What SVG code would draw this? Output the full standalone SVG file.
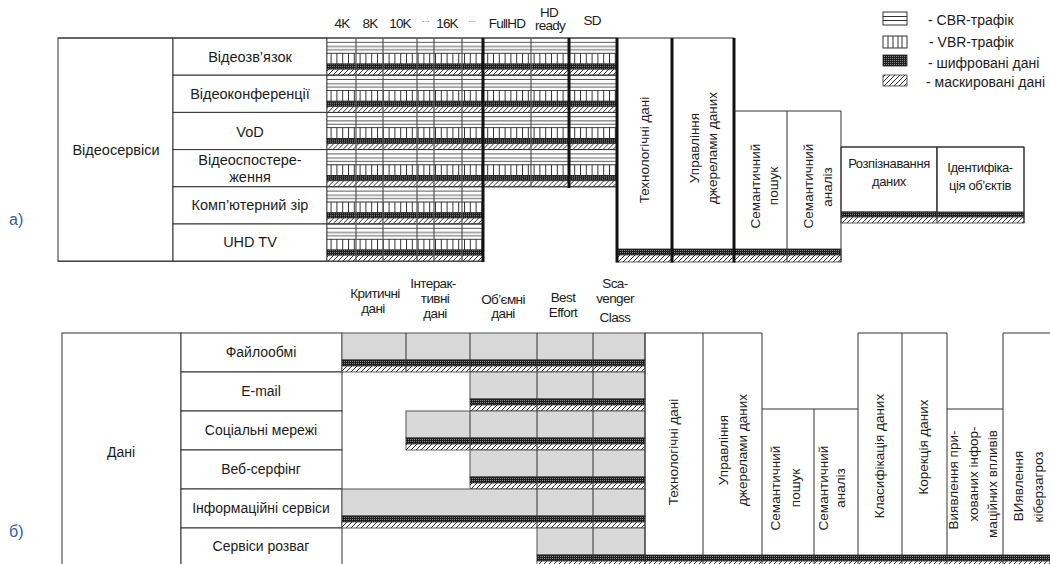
<svg xmlns="http://www.w3.org/2000/svg" xmlns:xlink="http://www.w3.org/1999/xlink" width="1050" height="564" viewBox="0 0 1050 564">
<style>
text{font-family:"Liberation Sans",Arial,sans-serif;fill:#1c1c1c}
.lb{font-size:14.5px;text-anchor:middle}
.lbb{font-size:14px;text-anchor:middle}
.hd{font-size:13.5px;text-anchor:middle;letter-spacing:-0.8px}
.hb{font-size:13.5px;text-anchor:middle;letter-spacing:-0.6px}
.vt{font-size:13.5px;text-anchor:middle;dominant-baseline:central}
.ht{font-size:13px;text-anchor:middle;letter-spacing:-0.4px}
.lg{font-size:14px}
.tag{font-size:16px;fill:#2f5f9f}
.cell{fill:#fff;stroke:#333;stroke-width:1}
.ln{stroke:#333;stroke-width:1;fill:none}
.cl{stroke:#555;stroke-width:1.2;fill:none}
.tk{stroke:#111;stroke-width:3;fill:none}
.gr{fill:#d9d9d9;stroke:#555;stroke-width:1}
.en{fill:url(#enc);stroke:#222;stroke-width:0.8}
.ha{fill:url(#hat);stroke:#333;stroke-width:0.8}
.vb{fill:url(#vbr);stroke:#333;stroke-width:0.8}
.cb{fill:url(#cbr);stroke:#333;stroke-width:0.8}
</style>
<defs>
<pattern id="enc" patternUnits="userSpaceOnUse" width="2" height="2"><rect width="2" height="2" fill="#1e1e1e"/><rect width="1" height="1" fill="#8a8a8a"/></pattern>
<pattern id="hat" patternUnits="userSpaceOnUse" width="5" height="5"><rect width="5" height="5" fill="#fff"/><path d="M0,5 L5,0 M-1,1 L1,-1 M4,6 L6,4" stroke="#333" stroke-width="1"/></pattern>
<pattern id="vbr" patternUnits="userSpaceOnUse" width="5.8" height="10"><rect width="5.8" height="10" fill="#fff"/><path d="M0.5,0 V10" stroke="#333" stroke-width="1"/></pattern>
<pattern id="cbr" patternUnits="userSpaceOnUse" width="10" height="15.3"><rect width="10" height="15.3" fill="#fff"/><path d="M0,4.3 H10 M0,8.5 H10 M0,11.8 H10" stroke="#444" stroke-width="0.9"/></pattern>
<g id="rowFull">
<rect class="cb" x="327" y="0" width="290" height="15.3"/>
<rect class="vb" x="327" y="15.3" width="290" height="10.7"/>
<rect class="en" x="327" y="26" width="290" height="5.2"/>
<rect class="ha" x="327" y="31.2" width="290" height="6"/>
</g>
<g id="rowShort">
<rect class="cb" x="327" y="0" width="156" height="15.3"/>
<rect class="vb" x="327" y="15.3" width="156" height="10.7"/>
<rect class="en" x="327" y="26" width="156" height="5.2"/>
<rect class="ha" x="327" y="31.2" width="156" height="6"/>
</g>
</defs>
<rect width="1050" height="564" fill="#fff"/>

<!-- Legend -->
<g id="legend">
<rect x="883" y="12" width="24" height="13" class="cell"/>
<path class="ln" d="M883,16.5 H907 M883,20.5 H907"/>
<rect x="883" y="36" width="24" height="12" class="cell"/>
<path class="ln" d="M888,36 V48 M893,36 V48 M898,36 V48 M902,36 V48"/>
<rect x="883" y="55" width="24" height="11" class="en"/>
<rect x="883" y="75" width="24" height="11" class="ha"/>
<text class="lg" x="928" y="25">- CBR-трафік</text>
<text class="lg" x="929" y="47">- VBR-трафік</text>
<text class="lg" x="928" y="68">- шифровані дані</text>
<text class="lg" x="926" y="87">- маскировані дані</text>
</g>

<text class="tag" x="9" y="225">а)</text>
<text class="tag" x="9" y="537">б)</text>

<!-- Part a headers -->
<g id="a-headers">
<text class="hd" x="342" y="28">4K</text>
<text class="hd" x="370" y="28">8K</text>
<text class="hd" x="400" y="28">10K</text>
<text class="hd" x="426" y="22" style="font-size:8px;letter-spacing:0">…</text>
<text class="hd" x="447" y="28">16K</text>
<text class="hd" x="472" y="22" style="font-size:8px;letter-spacing:0">…</text>
<text class="hd" x="507" y="28">FullHD</text>
<text class="hd" x="549" y="17">HD</text>
<text class="hd" x="550" y="30">ready</text>
<text class="hd" x="592" y="25">SD</text>
</g>

<!-- Part a label boxes -->
<g id="a-videoservices">
<rect class="cell" x="58" y="38" width="115" height="223.2"/>
<text class="lb" x="116" y="155">Відеосервіси</text>
</g>
<g id="a-videocall"><rect class="cell" x="173" y="38" width="154" height="37.2"/><text class="lb" x="250" y="62">Відеозв’язок</text></g>
<g id="a-videoconf"><rect class="cell" x="173" y="75.2" width="154" height="37.2"/><text class="lb" x="250" y="99">Відеоконференції</text></g>
<g id="a-vod"><rect class="cell" x="173" y="112.4" width="154" height="37.2"/><text class="lb" x="250" y="137">VoD</text></g>
<g id="a-surveillance"><rect class="cell" x="173" y="149.6" width="154" height="37.2"/><text class="lb" x="250" y="165">Відеоспостере-</text><text class="lb" x="250" y="182">ження</text></g>
<g id="a-cv"><rect class="cell" x="173" y="186.8" width="154" height="37.2"/><text class="lb" x="250" y="210">Комп’ютерний зір</text></g>
<g id="a-uhd"><rect class="cell" x="173" y="224" width="154" height="37.2"/><text class="lb" x="250" y="247">UHD TV</text></g>

<!-- Part a traffic grid -->
<g id="a-grid">
<use xlink:href="#rowFull" href="#rowFull" y="38"/>
<use xlink:href="#rowFull" href="#rowFull" y="75.2"/>
<use xlink:href="#rowFull" href="#rowFull" y="112.4"/>
<use xlink:href="#rowFull" href="#rowFull" y="149.6"/>
<use xlink:href="#rowShort" href="#rowShort" y="186.8"/>
<use xlink:href="#rowShort" href="#rowShort" y="224"/>
</g>

<!-- Part a right blocks -->
<g id="a-tech">
<rect class="en" x="617" y="249" width="224" height="6"/>
<rect class="ha" x="617" y="255" width="224" height="7"/>
<text class="vt" transform="translate(644,150) rotate(-90)">Технологічні дані</text>
</g>
<g id="a-sources">
<text class="vt" transform="translate(694,148) rotate(-90)">Управління</text>
<text class="vt" transform="translate(712,148) rotate(-90)">джерелами даних</text>
</g>
<g id="a-sem-search">
<text class="vt" transform="translate(755,186) rotate(-90)">Семантичний</text>
<text class="vt" transform="translate(773,186) rotate(-90)">пошук</text>
</g>
<g id="a-sem-analysis">
<text class="vt" transform="translate(808,186) rotate(-90)">Семантичний</text>
<text class="vt" transform="translate(827,187) rotate(-90)">аналіз</text>
</g>
<g id="a-recognition">
<rect class="cell" x="841" y="147" width="96" height="65"/>
<rect class="en" x="841" y="212" width="183" height="5"/>
<rect class="ha" x="841" y="217" width="183" height="6"/>
<text class="ht" x="889" y="168">Розпізнавання</text>
<text class="ht" x="889" y="186">даних</text>
</g>
<g id="a-identification">
<rect class="cell" x="937" y="147" width="87" height="65"/>
<text class="ht" x="980" y="172">Ідентифіка-</text>
<text class="ht" x="980" y="190">ція об’єктів</text>
</g>

<!-- Part b headers -->
<g id="b-headers">
<text class="hb" x="375" y="298">Критичні</text>
<text class="hb" x="373" y="313">дані</text>
<text class="hb" x="433" y="288">Інтерак-</text>
<text class="hb" x="435" y="303">тивні</text>
<text class="hb" x="435" y="318">дані</text>
<text class="hb" x="503" y="304">Об’ємні</text>
<text class="hb" x="503" y="318">дані</text>
<text class="hb" x="563" y="302">Best</text>
<text class="hb" x="563" y="317">Effort</text>
<text class="hb" x="615" y="288">Sca-</text>
<text class="hb" x="615" y="303">venger</text>
<text class="hb" x="615" y="322">Class</text>
</g>

<!-- Part b label boxes -->
<g id="b-data">
<rect class="cell" x="62" y="333" width="119" height="240"/>
<text class="lbb" x="121" y="457">Дані</text>
</g>
<g id="b-files"><rect class="cell" x="181" y="333" width="161" height="39"/><text class="lbb" x="261" y="357">Файлообмі</text></g>
<g id="b-email"><rect class="cell" x="181" y="372" width="161" height="39"/><text class="lbb" x="261" y="396">E-mail</text></g>
<g id="b-social"><rect class="cell" x="181" y="411" width="161" height="39"/><text class="lbb" x="261" y="435">Соціальні мережі</text></g>
<g id="b-web"><rect class="cell" x="181" y="450" width="161" height="39"/><text class="lbb" x="261" y="474">Веб-серфінг</text></g>
<g id="b-info"><rect class="cell" x="181" y="489" width="161" height="39"/><text class="lbb" x="261" y="513">Інформаційні сервіси</text></g>
<g id="b-fun"><rect class="cell" x="181" y="528" width="161" height="45"/><text class="lbb" x="261" y="551">Сервіси розваг</text></g>

<!-- Part b class bars -->
<g id="b-bars">
<g transform="translate(0,333)">
<rect class="gr" x="342" y="0" width="303" height="27"/><rect class="en" x="342" y="27" width="303" height="6"/><rect class="ha" x="342" y="33" width="303" height="6"/>
<path class="ln" d="M406,0 V39 M470,0 V39 M537,0 V39 M593,0 V39"/>
</g>
<g transform="translate(0,372)">
<rect class="gr" x="470" y="0" width="175" height="27"/><rect class="en" x="470" y="27" width="175" height="6"/><rect class="ha" x="470" y="33" width="175" height="6"/>
<path class="ln" d="M537,0 V39 M593,0 V39"/>
</g>
<g transform="translate(0,411)">
<rect class="gr" x="406" y="0" width="239" height="27"/><rect class="en" x="406" y="27" width="239" height="6"/><rect class="ha" x="406" y="33" width="239" height="6"/>
<path class="ln" d="M470,0 V39 M537,0 V39 M593,0 V39"/>
</g>
<g transform="translate(0,450)">
<rect class="gr" x="470" y="0" width="175" height="27"/><rect class="en" x="470" y="27" width="175" height="6"/><rect class="ha" x="470" y="33" width="175" height="6"/>
<path class="ln" d="M537,0 V39 M593,0 V39"/>
</g>
<g transform="translate(0,489)">
<rect class="gr" x="342" y="0" width="303" height="27"/><rect class="en" x="342" y="27" width="303" height="6"/><rect class="ha" x="342" y="33" width="303" height="6"/>
<path class="ln" d="M537,0 V39 M593,0 V39"/>
</g>
<g transform="translate(0,528)">
<rect class="gr" x="537" y="0" width="108" height="27"/><rect class="en" x="537" y="27" width="513" height="6"/><rect class="ha" x="537" y="33" width="513" height="6"/>
<path class="ln" d="M593,0 V39"/>
</g>
</g>

<!-- Part b right blocks -->
<g id="b-tech"><text class="vt" transform="translate(673,452) rotate(-90)">Технологічні дані</text></g>
<g id="b-sources">
<text class="vt" transform="translate(723,450) rotate(-90)">Управління</text>
<text class="vt" transform="translate(742,450) rotate(-90)">джерелами даних</text>
</g>
<g id="b-sem-search">
<text class="vt" transform="translate(775,488) rotate(-90)">Семантичний</text>
<text class="vt" transform="translate(795,488) rotate(-90)">пошук</text>
</g>
<g id="b-sem-analysis">
<text class="vt" transform="translate(823,488) rotate(-90)">Семантичний</text>
<text class="vt" transform="translate(840,488) rotate(-90)">аналіз</text>
</g>
<g id="b-classification"><text class="vt" transform="translate(879,456) rotate(-90)">Класифікація даних</text></g>
<g id="b-correction"><text class="vt" transform="translate(923,447) rotate(-90)">Корекція даних</text></g>
<g id="b-hidden">
<text class="vt" transform="translate(953,480) rotate(-90)">Виявлення при-</text>
<text class="vt" transform="translate(973,474) rotate(-90)">хованих інфор-</text>
<text class="vt" transform="translate(992,484) rotate(-90)">маційних впливів</text>
</g>
<g id="b-threats">
<text class="vt" transform="translate(1018,486) rotate(-90)">ВИявлення</text>
<text class="vt" transform="translate(1038,487) rotate(-90)">кіберзагроз</text>
</g>

<!-- Connectors / grid lines -->
<g id="connectors">
<path class="ln" d="M58,38 H734"/>
<path class="ln" d="M327,75.2 H617 M327,112.4 H617 M327,149.6 H617 M327,186.8 H617 M327,224 H483 M58,261.2 H483"/>
<path class="cl" d="M356,38 V261.2 M383,38 V261.2 M417,38 V261.2 M434,38 V261.2 M462,38 V261.2 M531,38 V186.8"/>
<path class="tk" d="M483,38 V262 M569,38 V188 M617,38 V262.5 M672,38 V262.5 M734,38 V262.5"/>
<path class="ln" d="M734,111 H841 M787,111 V262 M841,111 V262"/>
<path class="ln" d="M841,147 H1024 M937,147 V223 M1024,147 V223"/>
<path class="ln" d="M645,333 H762 M762,409 H858 M858,333 H947 M947,409 H1003 M1003,333 H1050"/>
<path class="ln" d="M645,333 V564 M703,333 V564 M762,333 V564 M814,409 V564 M858,333 V564 M902,333 V564 M947,333 V564 M1003,333 V564"/>
</g>
</svg>
